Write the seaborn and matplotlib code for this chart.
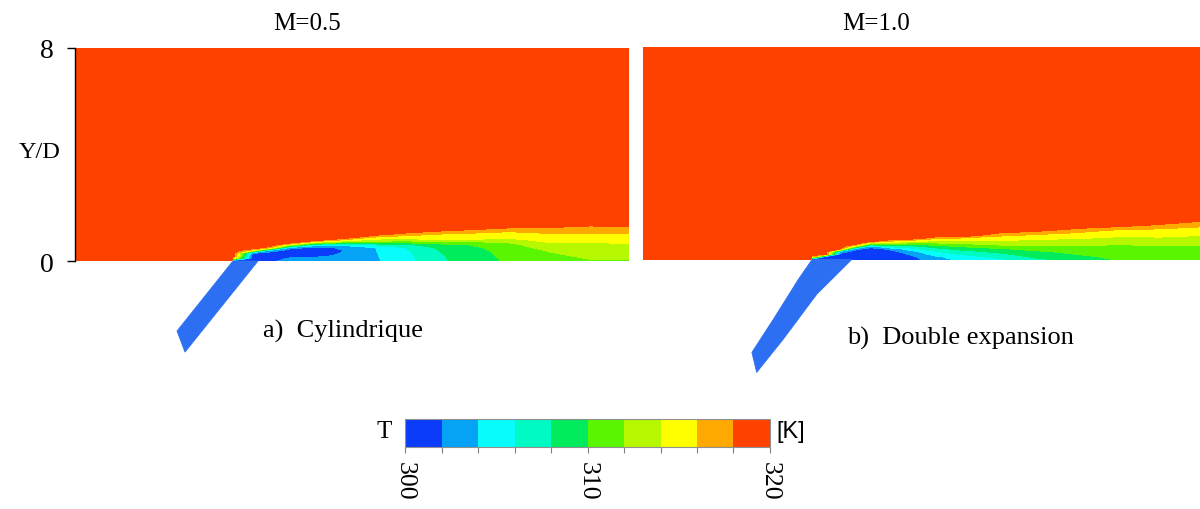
import numpy as np
import matplotlib
matplotlib.use("Agg")
import matplotlib.pyplot as plt
from matplotlib.colors import ListedColormap, BoundaryNorm
import seaborn as sns

# ---------------- data ----------------
T_INF = 319.8  # free-stream temperature (K), inside the 318-320 band
levels = [300, 302, 304, 306, 308, 310, 312, 314, 316, 318, 320]
band_colors = ["#0a3cfa", "#05a2f5", "#08fcfc", "#00fac4", "#00ec5c",
               "#5af500", "#b6f800", "#ffff00", "#ffa800", "#ff4100"]
cbar_tick_labels = {300: "300", 310: "310", 320: "320"}

titles = ["M=0.5", "M=1.0"]
captions = ["a)  Cylindrique", "b)  Double expansion"]
y_ticks = [0, 8]

# wall-normal stations Y/D
y_nodes = [0.0, 0.1, 0.2, 0.3, 0.4, 0.5, 0.6, 0.7, 0.8,
           0.9, 1.0, 1.1, 1.2, 1.3, 1.4, 1.5, 1.6, 8.0]

# ---- panel a) cylindrical hole, M=0.5 : streamwise stations X/D and T profiles
left_x = [-5.93, -0.05, 0.0, 0.75, 1.39, 2.14, 3.08, 4.21, 5.33,
          6.46, 7.78, 9.09, 10.4, 11.9, 13.4, 14.87]
left_T = [
    [],
    [],
    [300.5, 316],
    [300.4, 300.4, 300.6, 302.5, 315],
    [301.5, 300.8, 300.5, 300.8, 304, 316.5],
    [302.8, 302.2, 301, 300.6, 300.8, 303, 313],
    [303, 302.5, 301.2, 300.5, 300.5, 301.5, 305, 314],
    [303, 303, 302.6, 302.3, 302.1, 302.3, 304.5, 311, 316],
    [303.7, 303.75, 303.8, 303.85, 303.9, 303.95, 306, 311, 313.5, 316, 319],
    [305.2, 305.3, 305.4, 305.5, 305.7, 306, 307.5, 310.5, 313, 315, 317, 319],
    [307.6, 307.7, 307.8, 307.9, 308.1, 308.4, 309, 311.5, 314.3, 315, 315.8, 317.5, 319.5],
    [309.2, 309.2, 309.3, 309.4, 309.5, 309.7, 310.2, 311.5, 313.8, 314.8, 315.5, 316.5, 318.3],
    [310.3, 310.4, 310.5, 310.6, 310.8, 311, 311.4, 312.2, 313.6, 314.5, 315.2, 316, 317.2, 319],
    [311.2, 311.4, 311.6, 311.9, 312.2, 312.8, 313.4, 314.1, 314.6, 315.2, 315.8, 316.4, 317.2, 318.6],
    [311.8, 312.1, 312.4, 312.7, 313, 313.3, 313.6, 314, 314.5, 315.1, 315.7, 316.3, 317, 317.8, 319],
    [311.8, 312.2, 312.6, 313, 313.3, 313.6, 313.8, 314.2, 314.7, 315.2, 315.8, 316.6, 317.3, 318.1, 319.5],
]
left_hole_x = [0.0, 0.94, -1.80, -2.10]
left_hole_y = [0.0, 0.0, -3.42, -2.63]

# ---- panel b) double-expansion hole, M=1.0
right_x = [-6.35, -0.05, 0.0, 0.49, 1.05, 1.62, 2.18, 2.93, 3.68, 4.62,
           5.56, 7.06, 8.56, 10.07, 11.57, 13.07, 14.57]
right_T = [
    [],
    [],
    [300.5, 316],
    [300.5, 301.5],
    [300.4, 300.6, 301, 304, 318.5],
    [300.3, 300.3, 300.5, 300.8, 303, 314],
    [300.3, 300.3, 300.4, 300.6, 301, 303.5, 312.5],
    [300.4, 300.5, 300.7, 301.2, 302.5, 307, 312, 316.5],
    [301, 301.5, 302.2, 303.2, 305.2, 307.3, 311, 315.2],
    [303.1, 303.6, 304.8, 305.8, 307.3, 309.2, 311.5, 313.8, 316.5],
    [304.4, 305, 306.1, 307.2, 308.6, 310.3, 312, 313.9, 315.8, 319.5],
    [305.7, 306.6, 307.6, 308.6, 309.8, 311.3, 312.9, 313.9, 314.8, 316.3, 318],
    [307.6, 308.6, 309.3, 309.8, 310.8, 311.8, 312.7, 313.5, 314.4, 315.4, 316.8, 318.6],
    [309.1, 309.6, 310.1, 310.7, 311.3, 311.9, 312.6, 313.3, 314.1, 314.9, 315.8, 316.8, 318.5],
    [310.2, 310.5, 310.8, 311.1, 311.4, 311.7, 312.2, 312.9, 313.6, 314.3, 315, 315.7, 317.3, 319.3],
    [310.7, 310.95, 311.2, 311.45, 311.7, 311.95, 312.5, 313.1, 313.7, 314.4, 315.0, 315.6, 316.4, 317.7, 319.2],
    [311.0, 311.2, 311.4, 311.6, 311.8, 311.95, 312.5, 313.0, 313.5, 314.0, 314.6, 315.2, 315.8, 316.6, 317.6, 318.6],
]
right_hole_x = [0.0, 1.49, 0.18, -1.08, -2.08, -2.26, -1.45, -0.51]
right_hole_y = [0.0, 0.0, -1.30, -2.99, -4.24, -3.49, -2.24, -0.74]

HOLE_COLOR = "#2d6ff2"

# ---------------- style ----------------
sns.set_theme(style="white")
plt.rcParams["font.family"] = ["Liberation Serif", "DejaVu Serif"]
plt.rcParams["text.color"] = "black"
plt.rcParams["ytick.color"] = "black"
plt.rcParams["xtick.color"] = "black"

cmap = ListedColormap(band_colors)
norm = BoundaryNorm(levels, cmap.N)


def field(cols):
    return np.array([c + [T_INF] * (len(y_nodes) - len(c)) for c in cols]).T


fig = plt.figure(figsize=(12, 5.1), dpi=100)
fig.patch.set_facecolor("white")

px = 26.625  # pixels per D
H = 12.5 * px / 510
axL = fig.add_axes([75 / 1200, 1 - 49 / 510 - H, 554 / 1200, H])
axR = fig.add_axes([643 / 1200, 1 - 47.5 / 510 - H, 557 / 1200, H])

panels = [
    (axL, left_x, left_T, left_hole_x, left_hole_y),
    (axR, right_x, right_T, right_hole_x, right_hole_y),
]
for ax, xs, cols, hx, hy in panels:
    Z = field(cols)
    ax.contourf(xs, y_nodes, Z, levels=levels, cmap=cmap, norm=norm)
    ax.fill(hx, hy, color=HOLE_COLOR, lw=0.6, ec=HOLE_COLOR, zorder=3)
    ax.set_xlim(xs[0], xs[-1])
    ax.set_ylim(-4.5, 8)
    ax.set_facecolor("white")
    ax.set_xticks([])
    for s in ["top", "right", "bottom"]:
        ax.spines[s].set_visible(False)

axR.spines["left"].set_visible(False)
axR.set_yticks([])

axL.spines["left"].set_bounds(0, 8)
axL.spines["left"].set_color("black")
axL.spines["left"].set_linewidth(1.0)
axL.set_yticks(y_ticks)
axL.set_yticklabels([str(t) for t in y_ticks])
axL.tick_params(axis="y", direction="out", length=6, width=1, pad=9,
                labelsize=20, colors="black", left=True)

# titles / captions / labels
fig.text(307 / 1200, 1 - 24 / 510, titles[0], ha="center", va="center", fontsize=18)
fig.text(876 / 1200, 1 - 24 / 510, titles[1], ha="center", va="center", fontsize=18)
fig.text(263 / 1200, 1 - 331 / 510, captions[0], ha="left", va="center", fontsize=19)
fig.text(847 / 1200, 1 - 338 / 510, captions[1], ha="left", va="center", fontsize=19)
fig.text(40 / 1200, 1 - 152 / 510, "Y/D", ha="center", va="center", fontsize=17.5)

# colorbar
cax = fig.add_axes([405 / 1200, 1 - 448 / 510, 365 / 1200, 28 / 510])
sm = plt.cm.ScalarMappable(cmap=cmap, norm=norm)
cb = fig.colorbar(sm, cax=cax, orientation="horizontal", boundaries=levels)
cb.set_ticks(levels)
cb.set_ticklabels([cbar_tick_labels.get(l, "") for l in levels])
cb.outline.set_edgecolor("#909090")
cb.outline.set_linewidth(0.8)
cax.tick_params(axis="x", direction="out", length=4, width=0.8, colors="#808080",
                labelcolor="black", pad=6, labelsize=18.5, bottom=True)
for lab in cax.get_xticklabels():
    lab.set_rotation(-90)
    lab.set_va("top")
    lab.set_ha("center")

fig.text(384 / 1200, 1 - 432 / 510, "T", ha="center", va="center", fontsize=18)
fig.text(791 / 1200, 1 - 432 / 510, "[K]", ha="center", va="center", fontsize=17,
         family=["Liberation Sans", "DejaVu Sans"])

fig.savefig("out.png", dpi=100, facecolor="white")
